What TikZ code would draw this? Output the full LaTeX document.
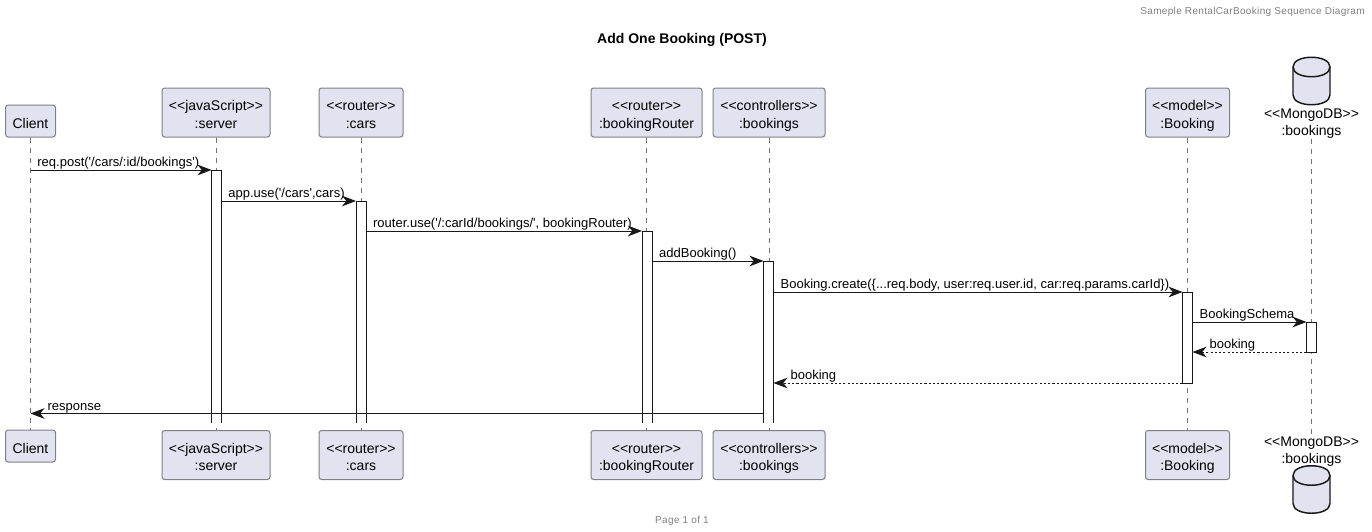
\documentclass[tikz,border=0pt]{standalone}
\usepackage{fontspec}
\setmainfont{Liberation Sans}[Ligatures=TeXOff]
\newfontfamily\trackfont[LetterSpace=3.4,Ligatures=TeXOff]{Liberation Sans}
\usetikzlibrary{arrows.meta,fit}
\definecolor{boxfill}{HTML}{E2E2F0}
\definecolor{boxline}{HTML}{7F7F87}
\definecolor{msgline}{HTML}{181818}
\newcommand{\rowtxt}[1]{\raisebox{-2.25pt}[8pt][2pt]{#1}}
\tikzset{
  actor/.style = {draw = boxline, fill = boxfill, rounded corners = 2pt, line width = .75pt, align = center, inner sep = 0pt,
    font = \fontsize{10.5}{12.9}\selectfont},
  dbtext/.style = {align = center, inner sep = 0pt, font = \fontsize{10.5}{12.9}\selectfont},
  lifeline/.style = {draw = black!55, line width = .6pt, dash pattern = on 3.75pt off 3.75pt},
  bar/.style = {fill = white, inner sep = 0pt, outer sep = 0pt},
  barline/.style = {draw = msgline, line width = .75pt},
  msg/.style = {draw = msgline, line width = .75pt, -{Stealth[length = 10.5pt, width = 8pt, inset = 3.2pt]}},
  reply/.style = {msg, dash pattern = on 1.6pt off 1.6pt},
  msglabel/.style = {anchor = base west, inner sep = 0pt, font = \fontsize{9.75}{12}\selectfont},
  pics/dbcyl/.style = {code = {
    \draw[fill = boxfill, draw = msgline, line width = 1.1pt]
      (-18.5,-13) .. controls (-18.5,-26) and (18.5,-26) .. (18.5,-13)
      -- (18.5,15) .. controls (18.5,28) and (-18.5,28) .. (-18.5,15) -- cycle;
    \draw[draw = msgline, line width = 1.1pt]
      (-18.5,-13) .. controls (-18.5,0) and (18.5,0) .. (18.5,-13);
  }}
}
\begin{document}
\begin{tikzpicture}[x = .75pt, y = -.75pt]
  \useasboundingbox (0,0) rectangle (1372,532);
  \node (hdr) at (1365,11.5) [anchor = east, inner sep = 0pt, text = black!50, font = \trackfont\fontsize{7.5}{9}\selectfont]{Sameple RentalCarBooking Sequence Diagram};
  \node (ttl) at (682,40) [inner sep = 0pt, font = \bfseries\fontsize{10.5}{12}\selectfont]{Add One Booking (POST)};
  \node (ftr) at (682,521) [inner sep = 0pt, text = black!50, font = \trackfont\fontsize{7.5}{9}\selectfont]{Page 1 of 1};

  \node (client) at (30.5,121) [actor, minimum width = 37.5pt, minimum height = 24pt]{\rowtxt{Client}};
  \node (server) at (216,112.5) [actor, minimum width = 81pt, minimum height = 36.75pt]{\rowtxt{<<javaScript>>}\\\rowtxt{:server}};
  \node (cars) at (361,112.5) [actor, minimum width = 63pt, minimum height = 36.75pt]{\rowtxt{<<router>>}\\\rowtxt{:cars}};
  \node (router) at (646.5,112.5) [actor, minimum width = 83.25pt, minimum height = 36.75pt]{\rowtxt{<<router>>}\\\rowtxt{:bookingRouter}};
  \node (ctrl) at (769,112.5) [actor, minimum width = 84pt, minimum height = 36.75pt]{\rowtxt{<<controllers>>}\\\rowtxt{:bookings}};
  \node (model) at (1187.5,112.5) [actor, minimum width = 63pt, minimum height = 36.75pt]{\rowtxt{<<model>>}\\\rowtxt{:Booking}};
  \pic at (1311.5,80) {dbcyl};
  \node (mongo) at (1311.5,123.5) [dbtext]{<<MongoDB>>\\:bookings};

  \node (clientb) at (30.5,446) [actor, minimum width = 37.5pt, minimum height = 24pt]{\rowtxt{Client}};
  \node (serverb) at (216,455) [actor, minimum width = 81pt, minimum height = 36.75pt]{\rowtxt{<<javaScript>>}\\\rowtxt{:server}};
  \node (carsb) at (361,455) [actor, minimum width = 63pt, minimum height = 36.75pt]{\rowtxt{<<router>>}\\\rowtxt{:cars}};
  \node (routerb) at (646.5,455) [actor, minimum width = 83.25pt, minimum height = 36.75pt]{\rowtxt{<<router>>}\\\rowtxt{:bookingRouter}};
  \node (ctrlb) at (769,455) [actor, minimum width = 84pt, minimum height = 36.75pt]{\rowtxt{<<controllers>>}\\\rowtxt{:bookings}};
  \node (modelb) at (1187.5,455) [actor, minimum width = 63pt, minimum height = 36.75pt]{\rowtxt{<<model>>}\\\rowtxt{:Booking}};
  \pic at (1311.5,488.5) {dbcyl};
  \node (mongob) at (1311.5,451.5) [dbtext]{<<MongoDB>>\\:bookings};

  \draw[lifeline] (client) -- (clientb);
  \draw[lifeline] (server) -- (serverb);
  \draw[lifeline] (cars) -- (carsb);
  \draw[lifeline] (router) -- (routerb);
  \draw[lifeline] (ctrl) -- (ctrlb);
  \draw[lifeline] (model) -- (modelb);
  \draw[lifeline] (mongo) -- (mongob);

  \node (serverbar) [bar, fit = {(211.5,170) (221.5,423)}]{};
  \node (carsbar) [bar, fit = {(356,201) (366,423)}]{};
  \node (routerbar) [bar, fit = {(642,231) (652,423)}]{};
  \node (ctrlbar) [bar, fit = {(763.5,261) (773.5,423)}]{};
  \node (modelbar) [bar, draw = msgline, line width = .75pt, fit = {(1182.5,292) (1192.5,383)}]{};
  \node (mongobar) [bar, draw = msgline, line width = .75pt, fit = {(1306.5,322) (1316.5,352)}]{};
  \draw[barline] (serverbar.south west) |- (serverbar.north east) -- (serverbar.south east);
  \draw[barline] (carsbar.south west) |- (carsbar.north east) -- (carsbar.south east);
  \draw[barline] (routerbar.south west) |- (routerbar.north east) -- (routerbar.south east);
  \draw[barline] (ctrlbar.south west) |- (ctrlbar.north east) -- (ctrlbar.south east);

  \draw[msg] (client |- serverbar.north) -- node (m1) [msglabel, pos = 0, xshift = 4.8pt, yshift = 2.6pt]{req.post('/cars/:id/bookings')} (serverbar.north west);
  \draw[msg] (serverbar.north east |- carsbar.north) -- node (m2) [msglabel, pos = 0, xshift = 4.8pt, yshift = 2.6pt]{app.use('/cars',cars)} (carsbar.north west);
  \draw[msg] (carsbar.north east |- routerbar.north) -- node (m3) [msglabel, pos = 0, xshift = 5pt, yshift = 2.6pt]{router.use('/:carId/bookings/', bookingRouter)} (routerbar.north west);
  \draw[msg] (routerbar.north east |- ctrlbar.north) -- node (m4) [msglabel, pos = 0, xshift = 5pt, yshift = 2.6pt]{addBooking()} (ctrlbar.north west);
  \draw[msg] (ctrlbar.north east |- modelbar.north) -- node (m5) [msglabel, pos = 0, xshift = 5pt, yshift = 2.6pt]{Booking.create(\{...req.body, user:req.user.id, car:req.params.carId\})} (modelbar.north west);
  \draw[msg] (modelbar.north east |- mongobar.north) -- node (m6) [msglabel, pos = 0, xshift = 5pt, yshift = 2.6pt]{BookingSchema} (mongobar.north west);
  \draw[reply] (mongobar.south west) -- node (m7) [msglabel, pos = 1, xshift = 12.5pt, yshift = 2.6pt]{booking} (modelbar.east |- mongobar.south);
  \draw[reply] (modelbar.south west) -- node (m8) [msglabel, pos = 1, xshift = 12.5pt, yshift = 2.6pt]{booking} (ctrlbar.east |- modelbar.south);
  \coordinate (r0) at (763.5,413.5);
  \draw[msg] (r0) -- node (m9) [msglabel, pos = 1, xshift = 12.5pt, yshift = 2.6pt]{response} (client |- r0);
\end{tikzpicture}
\end{document}
